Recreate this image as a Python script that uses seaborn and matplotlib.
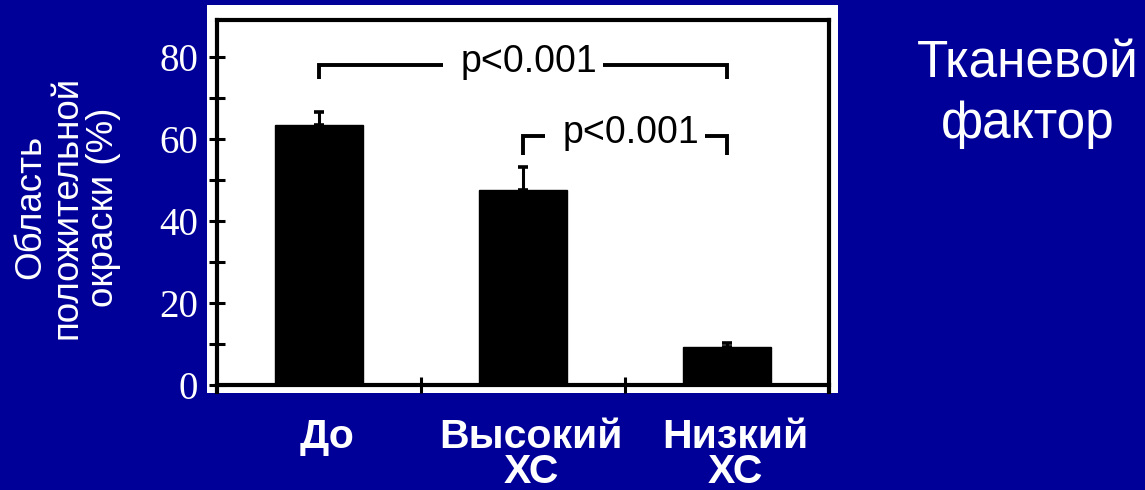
import numpy as np
import pandas as pd
import matplotlib
matplotlib.use("Agg")
import matplotlib.pyplot as plt
import seaborn as sns
from matplotlib.patches import Rectangle
from matplotlib.transforms import ScaledTranslation

# ---- data ----
categories = ["До", "Высокий\nХС", "Низкий\nХС"]
means = [63.4, 47.6, 9.3]
errors = [3.2, 5.6, 0.9]
y_ticks = [0, 20, 40, 60, 80]
y_minor = [10, 30, 50, 70]
bracket_pairs = [(0, 2), (1, 2)]
bracket_tops = [78.0, 60.8]
bracket_legs = [74.6, 56.1]
p_labels = ["p<0.001", "p<0.001"]
ylabel = "Область\nположительной\nокраски (%)"
side_title = "Тканевой\nфактор"

plt.rcParams["font.family"] = ["Liberation Sans", "DejaVu Sans"]

NAVY = "#000099"
W, H = 1145, 490
fig = plt.figure(figsize=(W / 100, H / 100), dpi=100, facecolor=NAVY)
fig.patches.append(Rectangle((207 / W, 1 - 393 / H), 631 / W, 388 / H,
                             transform=fig.transFigure, facecolor="white",
                             edgecolor="none", zorder=-5))
ax = fig.add_axes([217 / W, 1 - 392.4 / H, 612 / W, 372.4 / H])
ax.set_zorder(2)
ax.set_facecolor("white")

df = pd.DataFrame({"cat": categories, "val": means})
sns.barplot(data=df, x="cat", y="val", color="black", width=0.436,
            errorbar=None, ax=ax, saturation=1, edgecolor="black")
x = np.arange(len(categories))
ax.errorbar(x, means, yerr=[np.zeros(len(means)), errors], fmt="none",
            ecolor="black", elinewidth=2.2, capsize=3.6, capthick=2.6, zorder=3)

ax.set_xlim(-0.5, 2.5)
ax.set_ylim(-1.8, 89)
for s in ax.spines.values():
    s.set_linewidth(3)
    s.set_color("black")
ax.spines["bottom"].set_position(("data", 0))

ax.set_yticks(y_ticks)
ax.set_yticks(y_minor, minor=True)
ax.tick_params(axis="y", which="both", direction="inout", length=11, width=2.2,
               color="black", labelcolor="white", labelsize=28, pad=8)
for lab in ax.get_yticklabels():
    lab.set_family("Liberation Serif")

ax.set_xticks(x)
ax.set_xticklabels(categories)
ax.set_xticks([0.5, 1.5], minor=True)
ax.tick_params(axis="x", which="major", length=0, labelcolor="white",
               labelsize=29.5, pad=24)
ax.tick_params(axis="x", which="minor", direction="inout", length=11, width=2.2,
               color="black")
for lab in ax.get_xticklabels():
    lab.set_fontweight("bold")
    lab.set_linespacing(0.9)
    lab.set_transform(lab.get_transform() + ScaledTranslation(6 / 72, 0, fig.dpi_scale_trans))
ax.set_xlabel("")
ax.set_ylabel("")

gap = 0.39
for (l, r), top, leg, lab in zip(bracket_pairs, bracket_tops, bracket_legs, p_labels):
    mid = (l + r) / 2
    ax.plot([l, l, mid - gap], [leg, top, top], color="black", lw=2.8,
            solid_capstyle="butt", solid_joinstyle="miter")
    ax.plot([mid + gap, r, r], [top, top, leg], color="black", lw=2.8,
            solid_capstyle="butt", solid_joinstyle="miter")
    ax.text(mid + 0.03, top + 0.7, lab, ha="center", va="center", fontsize=27,
            color="black")

fig.text(67 / W, 1 - 207 / H, ylabel, rotation=90, ha="center", va="center",
         color="white", fontsize=26.5, linespacing=1.05)
fig.text(1028 / W, 1 - 40 / H, side_title, ha="center", va="top",
         color="white", fontsize=37, linespacing=1.3)

fig.savefig("out.png", dpi=100, facecolor=NAVY)
